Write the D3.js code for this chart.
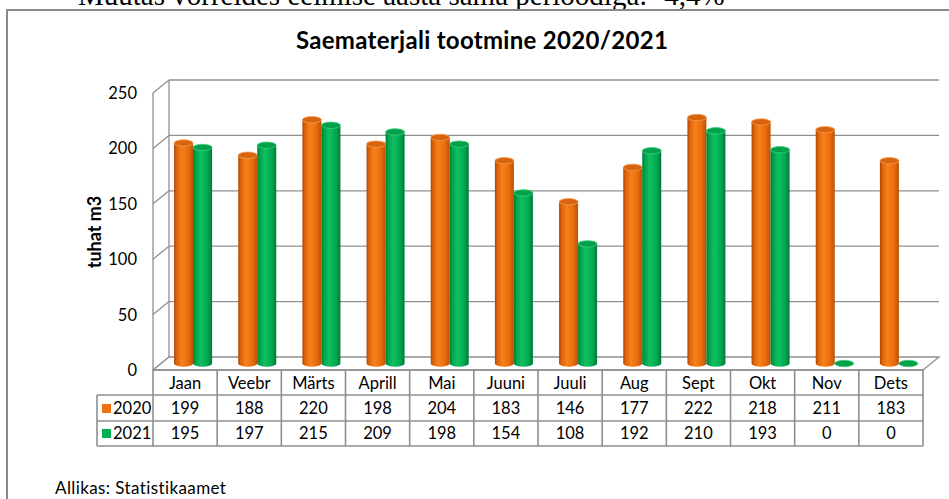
<!DOCTYPE html>
<html>
<head>
<meta charset="utf-8">
<script src="https://cdn.jsdelivr.net/npm/d3@7"></script>
<style>
  html, body { margin: 0; padding: 0; background: #fff; overflow: hidden; }
  svg { display: block; }
  text { font-family: Lato, "Open Sans", sans-serif; fill: #000; }
</style>
</head>
<body>
<div id="chart"></div>
<script>
const months = ["Jaan", "Veebr", "Märts", "Aprill", "Mai", "Juuni", "Juuli", "Aug", "Sept", "Okt", "Nov", "Dets"];
const values2020 = [199, 188, 220, 198, 204, 183, 146, 177, 222, 218, 211, 183];
const values2021 = [195, 197, 215, 209, 198, 154, 108, 192, 210, 193, 0, 0];
const seriesNames = ["2020", "2021"];
const yTicks = [0, 50, 100, 150, 200, 250];

const drawChart = () => {
    const WIDTH = 949;
    const HEIGHT = 499;
    const DX = 16, DY = -13;       // depth of the 3d box
    const GRID = "#8f8f8f";
    const FONT = "16.5px";

    const svg = d3.select("#chart")
        .append("svg")
        .attr("width", WIDTH)
        .attr("height", HEIGHT);

    const defs = svg.append("defs");
    const addGrad = (id, stops) => {
        const g = defs.append("linearGradient").attr("id", id)
            .attr("x1", "0%").attr("x2", "100%").attr("y1", "0%").attr("y2", "0%");
        stops.forEach(([o, c]) => g.append("stop").attr("offset", o).attr("stop-color", c));
    };
    addGrad("g2020", [["0%", "#a84400"], ["12%", "#dc6208"], ["40%", "#f7801c"], ["75%", "#ea6c0c"], ["100%", "#b85206"]]);
    addGrad("g2021", [["0%", "#00783a"], ["12%", "#00a048"], ["40%", "#10c062"], ["75%", "#00aa50"], ["100%", "#007a3c"]]);
    const topColors = ["#d8650e", "#00a14a"];
    const rimColors = ["#f59a50", "#3fd07e"];

    // page text above the chart, cut by the crop
    svg.append("text")
        .attr("x", 22).attr("y", 5)
        .style("font-family", "'Liberation Serif', serif")
        .style("font-size", "29px")
        .text("•");
    svg.append("text")
        .attr("x", 78).attr("y", 5)
        .style("font-family", "'Liberation Serif', serif")
        .style("font-size", "29px")
        .text("Muutas võrreldes eelmise aasta sama perioodiga: -4,4%");

    // chart frame
    svg.append("rect")
        .attr("x", 7).attr("y", 10)
        .attr("width", 980).attr("height", 540)
        .attr("fill", "#fff")
        .attr("stroke", "#8a8a8a")
        .attr("stroke-width", 2);

    svg.append("text")
        .attr("x", 482).attr("y", 49)
        .attr("text-anchor", "middle")
        .style("font-size", "24px")
        .style("font-weight", "bold")
        .style("letter-spacing", "0.3px")
        .text("Saematerjali tootmine 2020/2021");

    const x = d3.scaleBand().domain(months).range([153, 923]);
    const y = d3.scaleLinear().domain([0, 250]).range([370, 93]);

    // back wall + floor + left wall grid
    const grid = svg.append("g").attr("fill", "none").attr("stroke", GRID).attr("stroke-width", 1.3);
    grid.selectAll(".back").data(yTicks.filter(d => d > 0)).join("line")
        .attr("x1", 153 + DX).attr("x2", 923 + DX)
        .attr("y1", d => y(d) + DY).attr("y2", d => y(d) + DY);
    grid.selectAll(".side").data(yTicks).join("line")
        .attr("x1", 153).attr("x2", 153 + DX)
        .attr("y1", d => y(d)).attr("y2", d => y(d) + DY);
    grid.append("line")
        .attr("x1", 153).attr("x2", 153).attr("y1", y(250)).attr("y2", y(0));
    grid.append("line")
        .attr("x1", 153 + DX).attr("x2", 153 + DX).attr("y1", y(250) + DY).attr("y2", y(0) + DY);
    grid.append("path")
        .attr("fill", "#fff")
        .attr("d", `M${153},${y(0)} L${923},${y(0)} L${923 + DX},${y(0) + DY} L${153 + DX},${y(0) + DY} Z`);

    // y axis labels
    svg.append("g").selectAll("text").data(yTicks).join("text")
        .attr("x", 137).attr("y", d => y(d) + 6)
        .attr("text-anchor", "end")
        .style("font-size", FONT)
        .text(d => d);

    svg.append("text")
        .attr("transform", `translate(101,232) rotate(-90)`)
        .attr("text-anchor", "middle")
        .style("font-size", "18px")
        .style("font-weight", "bold")
        .text("tuhat m3");

    // cylinders
    const R = 9.5, RY = 3.2;
    const series = [values2020, values2021];
    series.forEach((vals, si) => {
        const g = svg.append("g");
        const cx = m => x(m) + x.bandwidth() / 2 + DX / 2 + (si === 0 ? -R : R);
        const data = months.map((m, i) => ({ m, v: vals[i] }));
        const bodies = data.filter(d => d.v > 0);
        g.selectAll("path.body").data(bodies).join("path")
            .attr("class", "body")
            .attr("fill", `url(#g${seriesNames[si]})`)
            .attr("d", d => {
                const c = cx(d.m), yt = y(d.v) + DY / 2, yb = y(0) + DY / 2;
                return `M${c - R},${yt} L${c - R},${yb} A${R},${RY} 0 0 0 ${c + R},${yb} L${c + R},${yt} Z`;
            });
        g.selectAll("ellipse").data(data).join("ellipse")
            .attr("cx", d => cx(d.m))
            .attr("cy", d => y(d.v) + DY / 2)
            .attr("rx", R).attr("ry", RY)
            .attr("fill", topColors[si])
            .attr("stroke", rimColors[si])
            .attr("stroke-width", 0.8);
    });

    // data table
    const T = { left: 97, head: 370, r1: 395, r2: 421, bottom: 446 };
    const tbl = svg.append("g").attr("stroke", "#8f8f8f").attr("stroke-width", 1.6);
    const colEdges = months.map(m => x(m)).concat([923]);
    tbl.selectAll(".v").data(colEdges).join("line")
        .attr("x1", d => d).attr("x2", d => d).attr("y1", T.head).attr("y2", T.bottom);
    tbl.selectAll(".h").data([T.r1, T.r2, T.bottom]).join("line")
        .attr("x1", T.left).attr("x2", 923).attr("y1", d => d).attr("y2", d => d);
    tbl.append("line").attr("x1", 153).attr("x2", 923).attr("y1", T.head).attr("y2", T.head);
    tbl.append("line").attr("x1", T.left).attr("x2", T.left).attr("y1", T.r1).attr("y2", T.bottom);

    const cellText = (list, yy) => svg.append("g").selectAll("text").data(list).join("text")
        .attr("x", (d, i) => x(months[i]) + x.bandwidth() / 2)
        .attr("y", yy)
        .attr("text-anchor", "middle")
        .style("font-size", FONT)
        .text(d => d);
    cellText(months, 389);
    cellText(values2020, 414);
    cellText(values2021, 439);

    const legendColors = ["#f07012", "#00b050"];
    seriesNames.forEach((s, i) => {
        const yy = i === 0 ? 414 : 439;
        svg.append("rect")
            .attr("x", 102).attr("y", yy - 10)
            .attr("width", 9).attr("height", 9)
            .attr("fill", legendColors[i]);
        svg.append("text")
            .attr("x", 113).attr("y", yy)
            .style("font-size", FONT)
            .text(s);
    });

    svg.append("text")
        .attr("x", 55).attr("y", 494)
        .style("font-size", "17px")
        .style("letter-spacing", "0.4px")
        .text("Allikas: Statistikaamet");
};

drawChart();
</script>
</body>
</html>
